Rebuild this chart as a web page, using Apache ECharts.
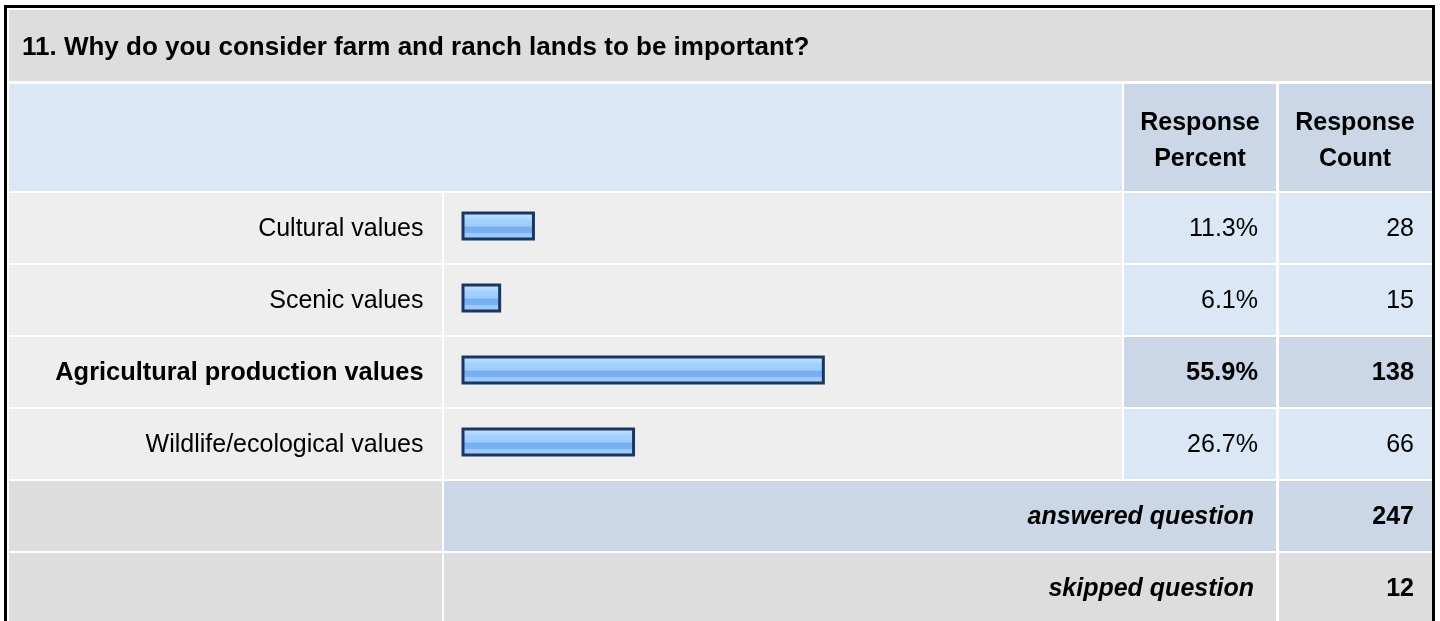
<!DOCTYPE html>
<html>
<head>
<meta charset="utf-8">
<script src="https://cdn.jsdelivr.net/npm/echarts@6/dist/echarts.min.js"></script>
<style>
html,body{margin:0;padding:0;background:#fff;}
#chart{width:1440px;height:621px;}
</style>
</head>
<body>
<div id="chart"></div>
<script>
// ---- data ----
const title = '11. Why do you consider farm and ranch lands to be important?';
const categories = ['Cultural values', 'Scenic values', 'Agricultural production values', 'Wildlife/ecological values'];
const percents = [11.3, 6.1, 55.9, 26.7];
const counts = [28, 15, 138, 66];
const headerPercent = 'Response\nPercent';
const headerCount = 'Response\nCount';
const answeredLabel = 'answered question';
const answeredCount = 247;
const skippedLabel = 'skipped question';
const skippedCount = 12;

// ---- layout ----
const FONT = "'Liberation Sans', Arial, sans-serif";
const FS = 25;
const maxIdx = percents.indexOf(Math.max.apply(null, percents));
const ROW_TOP = 193, PITCH = 72, CELL_H = 70;
const COLS = [[9, 442], [444, 1122], [1124, 1276], [1279, 1432]];
const C_GRAY = '#DDDDDD', C_LIGHT = '#EEEEEE', C_BLUE = '#DCE7F5', C_BLUE2 = '#CBD7E6';

const g = [];
function rect(x1, y1, x2, y2, c) {
  g.push({type: 'rect', z: -10, shape: {x: x1, y: y1, width: x2 - x1, height: y2 - y1}, style: {fill: c}, silent: true});
}
function text(x, y, t, opt) {
  g.push({type: 'text', z: 10, x: x, y: y, silent: true,
    style: Object.assign({text: t, fill: '#000', font: 'bold ' + FS + 'px ' + FONT, textVerticalAlign: 'middle'}, opt || {})});
}
// title row
rect(9, 10, 1432, 81, C_GRAY);
// header row
rect(COLS[0][0], 84, COLS[1][1], 191, C_BLUE);
rect(COLS[2][0], 84, COLS[2][1], 191, C_BLUE2);
rect(COLS[3][0], 84, COLS[3][1], 191, C_BLUE2);
// data rows
categories.forEach(function (c, i) {
  const y = ROW_TOP + PITCH * i;
  const hl = i === maxIdx;
  rect(COLS[0][0], y, COLS[0][1], y + CELL_H, C_LIGHT);
  rect(COLS[1][0], y, COLS[1][1], y + CELL_H, C_LIGHT);
  rect(COLS[2][0], y, COLS[2][1], y + CELL_H, hl ? C_BLUE2 : C_BLUE);
  rect(COLS[3][0], y, COLS[3][1], y + CELL_H, hl ? C_BLUE2 : C_BLUE);
});
const yA = ROW_TOP + PITCH * categories.length;
rect(COLS[0][0], yA, COLS[0][1], yA + CELL_H, C_GRAY);
rect(COLS[1][0], yA, COLS[2][1], yA + CELL_H, C_BLUE2);
rect(COLS[3][0], yA, COLS[3][1], yA + CELL_H, C_BLUE2);
const yS = yA + PITCH;
rect(COLS[0][0], yS, COLS[0][1], 640, C_GRAY);
rect(COLS[1][0], yS, COLS[2][1], 640, C_GRAY);
rect(COLS[3][0], yS, COLS[3][1], 640, C_GRAY);
// outer border
g.push({type: 'rect', z: 20, silent: true, shape: {x: 5.5, y: 6.5, width: 1428, height: 700},
  style: {fill: 'none', stroke: '#000', lineWidth: 3}});
// texts
text(22, 48, title, {textAlign: 'left', font: 'bold 26px ' + FONT});
text(1200, 141, headerPercent, {textAlign: 'center', lineHeight: 36});
text(1355, 141, headerCount, {textAlign: 'center', lineHeight: 36});
text(1254, yA + 36, answeredLabel, {textAlign: 'right', font: 'italic bold ' + FS + 'px ' + FONT});
text(1414, yA + 36, String(answeredCount), {textAlign: 'right'});
text(1254, yS + 36, skippedLabel, {textAlign: 'right', font: 'italic bold ' + FS + 'px ' + FONT});
text(1414, yS + 36, String(skippedCount), {textAlign: 'right'});

const GRID_LEFT = 461.5, GRID_RIGHT_X = 1111.5;
function labelStyle(margin, align, fmt) {
  return {
    margin: margin, align: align, fontFamily: FONT, fontSize: FS, color: '#000',
    padding: [6, 0, 0, 0],
    formatter: function (v, i) { return i === maxIdx ? '{b|' + fmt(v, i) + '}' : fmt(v, i); },
    rich: {b: {fontWeight: 'bold', fontFamily: FONT, fontSize: 25.4, color: '#000'}}
  };
}
const hiddenAxis = {axisLine: {show: false}, axisTick: {show: false}, splitLine: {show: false}};

const chart = echarts.init(document.getElementById('chart'), null, {renderer: 'canvas'});
chart.setOption({
  backgroundColor: '#ffffff',
  animation: false,
  graphic: g,
  grid: {left: GRID_LEFT, right: 1440 - GRID_RIGHT_X, top: 190, height: 288, containLabel: false},
  xAxis: {type: 'value', min: 0, max: 100, show: false},
  yAxis: [
    Object.assign({type: 'category', inverse: true, data: categories, position: 'left',
      axisLabel: labelStyle(Math.round(GRID_LEFT) - 424, 'right', function (v) { return v; })}, hiddenAxis),
    Object.assign({type: 'category', inverse: true, data: categories, position: 'right',
      axisLabel: labelStyle(1258 - GRID_RIGHT_X, 'right', function (v, i) { return percents[i].toFixed(1) + '%'; })}, hiddenAxis),
    Object.assign({type: 'category', inverse: true, data: categories, position: 'right',
      axisLabel: labelStyle(1414 - GRID_RIGHT_X, 'right', function (v, i) { return String(counts[i]); })}, hiddenAxis)
  ],
  series: [{
    type: 'bar', yAxisIndex: 0, data: percents, barWidth: 29, silent: true,
    itemStyle: {
      borderColor: '#1C365F', borderWidth: 3,
      color: new echarts.graphic.LinearGradient(0, 0, 0, 1, [
        {offset: 0, color: '#D4ECFF'},
        {offset: 0.15, color: '#B8DCFF'},
        {offset: 0.3, color: '#A2D1FF'},
        {offset: 0.5, color: '#99CCFF'},
        {offset: 0.54, color: '#78AEF2'},
        {offset: 0.72, color: '#7AB0F2'},
        {offset: 0.76, color: '#96C9FF'},
        {offset: 1, color: '#A4D2FF'}
      ])
    }
  }]
});
</script>
</body>
</html>
